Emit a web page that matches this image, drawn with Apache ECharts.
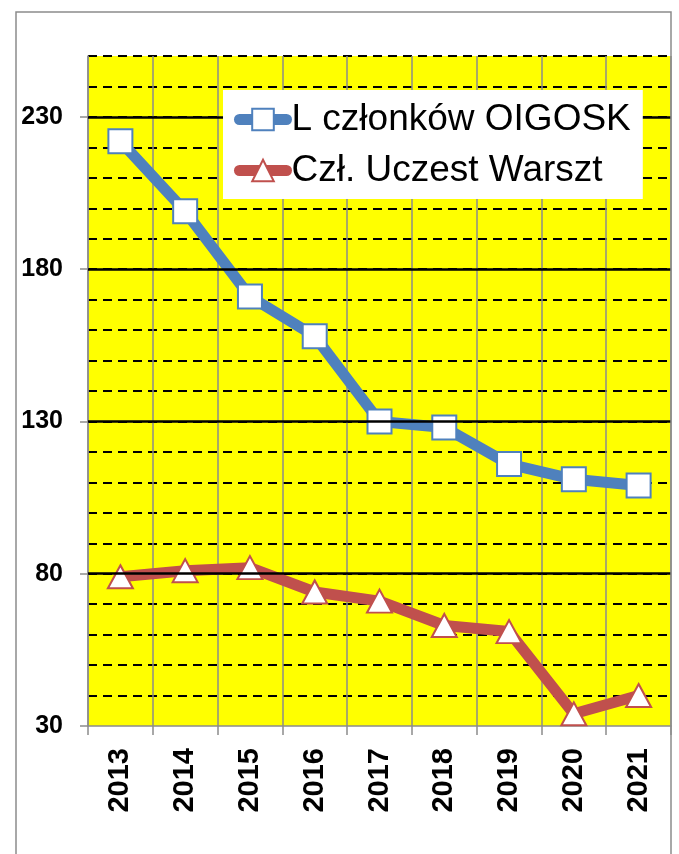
<!DOCTYPE html>
<html>
<head>
<meta charset="utf-8">
<title>OIGOSK</title>
<script src="https://cdn.jsdelivr.net/npm/echarts@6/dist/echarts.min.js"></script>
<style>
    html, body { margin: 0; padding: 0; background: #fff; }
    #chart { width: 679px; height: 854px; }
</style>
</head>
<body>
<div id="chart"></div>
<script>
    // dane
    const years = ['2013', '2014', '2015', '2016', '2017', '2018', '2019', '2020', '2021']
    const members = [222, 199, 171, 158, 130, 128, 116, 111, 109]
    const workshop = [79, 81, 82, 74, 71, 63, 61, 34, 40]
    const yTicks = [30, 80, 130, 180, 230]
    const seriesNames = ['L członków OIGOSK', 'Czł. Uczest Warszt']
    const colors = ['#4f81bd', '#c0504d']

    const font = '"Liberation Sans", Arial, sans-serif'
    const gray = '#8c8c8c'

    const chart = echarts.init(document.getElementById('chart'), null, { renderer: 'canvas' })

    // przerywane linie co 10, pierwsza (na osi) ukryta
    const dashColors = ['transparent']
    for (let v = 40; v <= 250; v += 10) dashColors.push('#000')

    const option = {
        animation: false,
        backgroundColor: '#fff',
        textStyle: { fontFamily: font },
        graphic: [{
            type: 'rect',
            silent: true,
            z: 100,
            shape: { x: 16, y: 12, width: 655, height: 900 },
            style: { fill: 'none', stroke: gray, lineWidth: 1.5 }
        }],
        grid: {
            left: 88,
            right: 8,
            top: 56,
            bottom: 128,
            show: true,
            backgroundColor: '#ffff00',
            borderWidth: 0,
            outerBoundsMode: 'none'
        },
        legend: {
            z: 20,
            data: seriesNames.map((name, i) => ({
                name: name,
                lineStyle: { color: colors[i], width: 11, cap: 'round' },
                itemStyle: { color: '#fff', borderColor: colors[i], borderWidth: 2 }
            })),
            orient: 'vertical',
            left: 223,
            top: 90,
            backgroundColor: '#fff',
            padding: [11, 12, 10, 11],
            itemWidth: 47,
            itemHeight: 27,
            itemGap: 14,
            textStyle: { fontSize: 37, color: '#000', fontFamily: font }
        },
        xAxis: {
            type: 'category',
            data: years,
            boundaryGap: true,
            axisLine: { show: true, lineStyle: { color: gray, width: 1.5 } },
            axisTick: { show: true, length: 9, lineStyle: { color: gray, width: 1.5 } },
            splitLine: { show: true, lineStyle: { color: gray, width: 1.5 } },
            axisLabel: {
                interval: 0,
                rotate: 90,
                margin: 22,
                fontSize: 29,
                fontWeight: 'bold',
                color: '#000',
                fontFamily: font
            }
        },
        yAxis: [
            {
                type: 'value',
                min: 30,
                max: 250,
                interval: 10,
                axisLine: { show: true, lineStyle: { color: gray, width: 1.5 } },
                axisTick: { show: true, customValues: yTicks, length: 8, lineStyle: { color: gray, width: 1.5 } },
                axisLabel: {
                    customValues: yTicks,
                    margin: 25,
                    fontSize: 25,
                    fontWeight: 'bold',
                    color: '#000',
                    fontFamily: font
                },
                splitLine: { show: false }
            },
            {
                // tylko siatka przerywana
                type: 'value',
                position: 'left',
                min: 30,
                max: 250,
                interval: 10,
                axisLine: { show: false },
                axisTick: { show: false },
                axisLabel: { show: false },
                splitLine: {
                    show: true,
                    lineStyle: { color: dashColors, width: 2, type: [9, 6] }
                }
            }
        ],
        series: [
            {
                // ciagle linie co 50
                type: 'line',
                data: [],
                z: 1,
                silent: true,
                markLine: {
                    silent: true,
                    symbol: 'none',
                    label: { show: false },
                    lineStyle: { color: '#000', width: 2.5, type: 'solid' },
                    data: yTicks.slice(1).map(v => ({ yAxis: v }))
                }
            },
            {
                name: seriesNames[0],
                type: 'line',
                data: members,
                z: 3,
                symbol: 'rect',
                symbolSize: 24,
                lineStyle: { color: colors[0], width: 11, cap: 'round', join: 'round' },
                itemStyle: { color: '#fff', borderColor: colors[0], borderWidth: 2 }
            },
            {
                name: seriesNames[1],
                type: 'line',
                data: workshop,
                z: 3,
                symbol: 'triangle',
                symbolSize: [25, 23],
                lineStyle: { color: colors[1], width: 11, cap: 'round', join: 'round' },
                itemStyle: { color: '#fff', borderColor: colors[1], borderWidth: 2 }
            }
        ]
    }
    chart.setOption(option)
</script>
</body>
</html>
